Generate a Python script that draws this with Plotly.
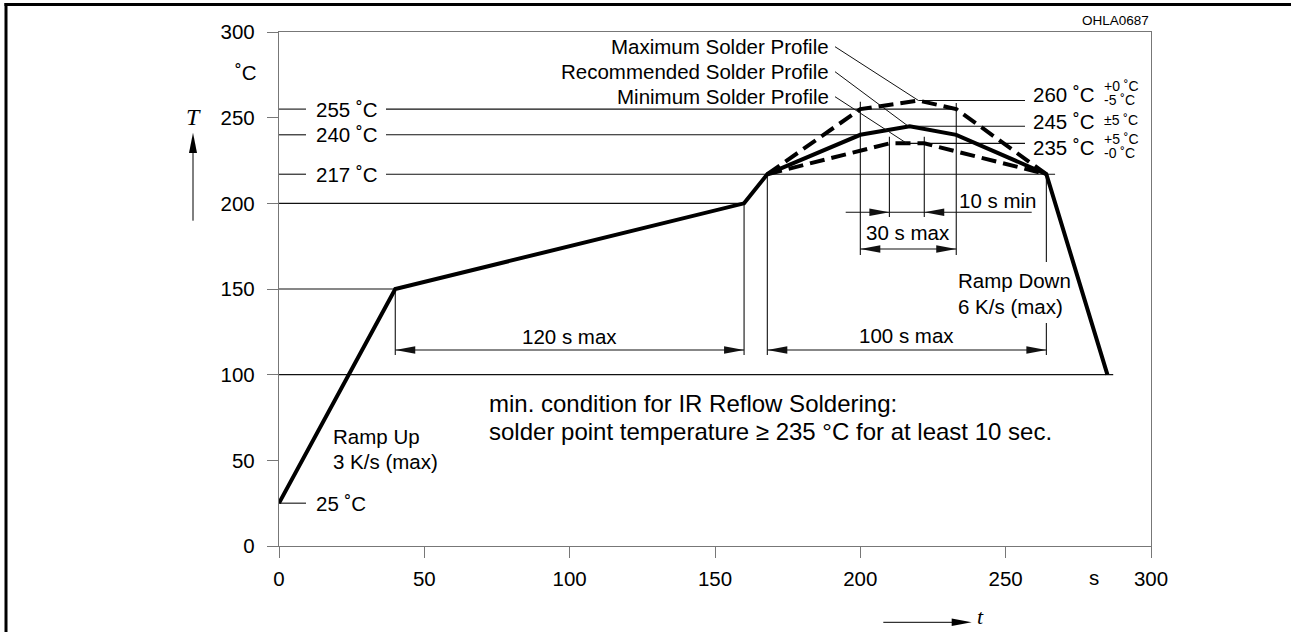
import plotly.graph_objects as go

# ---------------- data ----------------
rec_time = [0, 40, 160, 168, 200, 217, 233, 264, 285]
rec_temp = [25, 150, 200, 217, 240, 245, 240, 217, 100]
max_time = [168, 200, 220, 233, 264]
max_temp = [217, 255, 260, 255, 217]
min_time = [168, 210, 222, 264]
min_temp = [217, 235, 235, 217]

x_ticks = [0, 50, 100, 150, 200, 250, 300]
y_ticks = [0, 50, 100, 150, 200, 250, 300]

left_levels = [255, 240, 217]          # labelled levels on the left
left_level_ends = [233, 200, 267]
start_temp = 25
right_levels = [260, 245, 235]
right_level_starts = [220, 217, 216]
right_tol_hi = ["+0 ˚C", None, "+5 ˚C"]
right_tol_lo = ["-5 ˚C", None, "-0 ˚C"]
right_tol_mid = [None, "±5 ˚C", None]

profile_names = ["Maximum Solder Profile", "Recommended Solder Profile", "Minimum Solder Profile"]
profile_peaks = [(220, 260), (216.5, 245), (216, 235)]

# ---------------- geometry helpers ----------------
L, T, W, H = 279, 32, 872, 514
FONT = "Liberation Sans, Arial, Helvetica, sans-serif"
SERIF = "Liberation Serif, Times New Roman, serif"


def px2x(px):
    return (px - L) / W * 300


def py2y(py):
    return (T + H - py) / H * 300


def px2p(px):
    return (px - L) / W


def py2p(py):
    return (T + H - py) / H


fig = go.Figure()

fig.add_trace(go.Scatter(x=rec_time, y=rec_temp, mode="lines",
                         line=dict(color="black", width=4), showlegend=False, hoverinfo="skip"))
fig.add_trace(go.Scatter(x=max_time, y=max_temp, mode="lines",
                         line=dict(color="black", width=4, dash="15px,7px"), showlegend=False, hoverinfo="skip"))
fig.add_trace(go.Scatter(x=min_time, y=min_temp, mode="lines",
                         line=dict(color="black", width=4, dash="15px,7px"), showlegend=False, hoverinfo="skip"))

shapes = []
THIN = dict(color="#111", width=1.1)


def hline(x0, x1, y, line=THIN):
    shapes.append(dict(type="line", xref="x", yref="y", x0=x0, x1=x1, y0=y, y1=y, line=line, layer="below"))


def vline(x, y0, y1, line=THIN):
    shapes.append(dict(type="line", xref="x", yref="y", x0=x, x1=x, y0=y0, y1=y1, line=line, layer="below"))


def head(xt, y, d, length=20, half=3.7):
    dx = length / W * 300
    dy = half / H * 300
    xb = xt - d * dx
    path = f"M{xt},{y} L{xb},{y + dy} L{xb},{y - dy} Z"
    shapes.append(dict(type="path", xref="x", yref="y", path=path,
                       fillcolor="#111", line=dict(width=0)))


gap0, gap1 = px2x(306), px2x(386)
for lv, end in zip(left_levels, left_level_ends):
    hline(0, gap0, lv)
    hline(gap1, end, lv)
hline(0, gap0, start_temp)
hline(0, 160, 200)
hline(0, 40, 150)
hline(0, 287, 100)

right_end = px2x(1025)
for lv, st in zip(right_levels, right_level_starts):
    hline(st, right_end, lv)

# dimension verticals
y_dim = py2y(350)
y_low = py2y(355)
vline(40, 150, y_low)
vline(160, 200, y_low)
vline(168, 217, y_low)
vline(264, 217, py2y(262))
vline(264, py2y(323), y_low)
vline(200, py2y(101.7), py2y(255))
vline(233, py2y(103), py2y(255))
vline(210, py2y(136.7), py2y(217))
vline(222, py2y(136.7), py2y(217))

# 120 s max
hline(40, 160, y_dim)
head(40, y_dim, -1)
head(160, y_dim, 1)
# 100 s max
hline(168, 264, y_dim)
head(168, y_dim, -1)
head(264, y_dim, 1)
# 30 s max
y30 = py2y(249)
hline(200, 233, y30)
head(200, y30, -1)
head(233, y30, 1)
# 10 s min
y10 = py2y(212.3)
hline(px2x(845.7), px2x(1031.7), y10)
head(210, y10, 1)
head(222, y10, -1)

# leader lines
lead_y = [py2y(46.7), py2y(71.7), py2y(96.7)]
for (px_, py_), ly in zip(profile_peaks, lead_y):
    shapes.append(dict(type="line", xref="x", yref="y", x0=px2x(835), y0=ly, x1=px_, y1=py_,
                       line=dict(color="#111", width=1)))

# outer frame (top and left edges only) drawn as thin filled bars
shapes.append(dict(type="rect", xref="paper", yref="paper", x0=px2p(4.5), x1=px2p(1291),
                   y0=py2p(3), y1=py2p(6), fillcolor="black", line=dict(width=0)))
shapes.append(dict(type="rect", xref="paper", yref="paper", x0=px2p(4.5), x1=px2p(7.5),
                   y0=py2p(3), y1=py2p(632), fillcolor="black", line=dict(width=0)))

# T arrow (vertical, left)
tx = px2p(193)
shapes.append(dict(type="line", xref="paper", yref="paper", x0=tx, x1=tx,
                   y0=py2p(220.7), y1=py2p(145), line=dict(color="black", width=1)))
shapes.append(dict(type="path", xref="paper", yref="paper",
                   path=f"M{tx},{py2p(132.7)} L{px2p(189)},{py2p(153)} L{px2p(197)},{py2p(153)} Z",
                   fillcolor="black", line=dict(width=0)))
# t arrow (horizontal, bottom)
ty = py2p(622.3)
shapes.append(dict(type="line", xref="paper", yref="paper", x0=px2p(883.3), x1=px2p(960),
                   y0=ty, y1=ty, line=dict(color="black", width=1)))
shapes.append(dict(type="path", xref="paper", yref="paper",
                   path=f"M{px2p(971.7)},{ty} L{px2p(951.7)},{py2p(618.5)} L{px2p(951.7)},{py2p(626.1)} Z",
                   fillcolor="black", line=dict(width=0)))

annotations = []


def txt(text, x, y, xanchor="left", size=20.5, xref="x", yref="y", family=FONT, yanchor="middle"):
    annotations.append(dict(text=text, x=x, y=y, xref=xref, yref=yref, showarrow=False,
                            xanchor=xanchor, yanchor=yanchor,
                            font=dict(family=family, size=size, color="black")))


lab_x = px2x(314)
for lv in left_levels:
    txt(f"{lv} ˚C", lab_x, lv)
txt(f"{start_temp} ˚C", lab_x, start_temp)

rx = px2x(1031)
right_y = [py2y(94), py2y(121.7), py2y(147)]
for lv, ry in zip(right_levels, right_y):
    txt(f"{lv} ˚C", rx, ry)
sx = px2x(1102)
for hi, lo, mid, ry in zip(right_tol_hi, right_tol_lo, right_tol_mid, right_y):
    if hi:
        txt(hi, sx, ry + (py2y(86) - py2y(94)), size=14)
        txt(lo, sx, ry - (py2y(94) - py2y(100)), size=14)
    if mid:
        txt(mid, sx, ry + (py2y(120) - py2y(121.7)), size=14)

for name, py_ in zip(profile_names, [46, 71, 96]):
    txt(name, px2x(831), py2y(py_), xanchor="right")

txt("120 s max", 100, py2y(336.7), xanchor="center")
txt("100 s max", px2x(906.7), py2y(335), xanchor="center")
txt("30 s max", px2x(907.5), py2y(232.3), xanchor="center")
txt("10 s min", px2x(957), py2y(200))
txt("Ramp Down", px2x(956), py2y(280))
txt("6 K/s (max)", px2x(956), py2y(306))
txt("Ramp Up", px2x(331), py2y(436))
txt("3 K/s (max)", px2x(331), py2y(461))
txt("min. condition for IR Reflow Soldering:", px2x(487), py2y(403.3), size=24)
txt("solder point temperature ≥ 235 °C for at least 10 sec.", px2x(487), py2y(431), size=24)

txt("˚C", px2p(259), py2y(72), xanchor="right", xref="paper")
txt("s", px2x(1094), py2p(577), xanchor="center", yref="paper")
txt("OHLA0687", 1.0, py2p(20), xanchor="right", xref="paper", yref="paper", size=13.5)
txt("<i>T</i>", tx, py2p(117), xanchor="center", xref="paper", yref="paper", size=24, family=SERIF)
txt("<i>t</i>", px2p(980), py2p(631), xanchor="center", xref="paper", yref="paper", size=22,
    family=SERIF, yanchor="bottom")

axis_common = dict(showgrid=False, zeroline=False, showline=True, linecolor="#777", linewidth=1.3,
                   mirror=True, ticks="outside", ticklen=11, tickwidth=1.3, tickcolor="#777",
                   tickfont=dict(family=FONT, size=20.5, color="black"), range=[0, 300],
                   fixedrange=True)

fig.update_layout(
    width=1291, height=632,
    margin=dict(l=L, r=1291 - L - W, t=T, b=632 - T - H),
    paper_bgcolor="white", plot_bgcolor="white",
    xaxis=dict(tickvals=x_ticks, ticktext=[str(v) for v in x_ticks], ticklabelstandoff=3, **axis_common),
    yaxis=dict(tickvals=y_ticks, ticktext=[str(v) for v in y_ticks], ticklabelstandoff=8, **axis_common),
    shapes=shapes, annotations=annotations, showlegend=False,
)

fig.write_html("out.html", config={"displayModeBar": False},
               post_script=("document.body.style.margin='0';"
                            "document.body.style.overflow='hidden';"
                            "document.documentElement.style.overflow='hidden';"))
